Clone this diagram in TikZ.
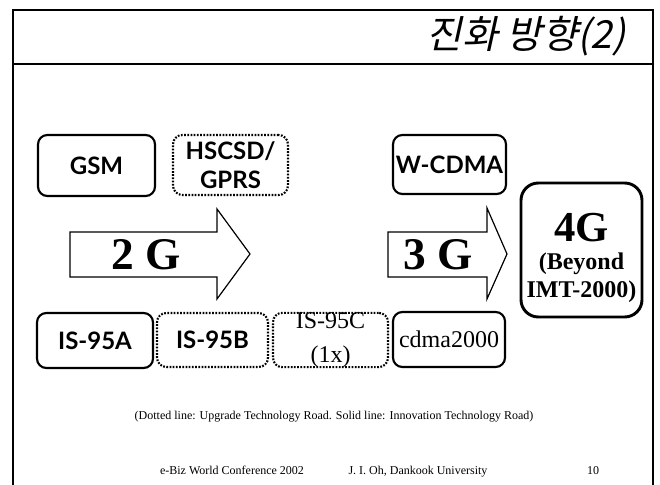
\documentclass[tikz,border=0pt]{standalone}
\usepackage{fontspec}
\setmainfont{Liberation Serif}
\newfontfamily\boxfont{Lato}
\newfontfamily\krfont[FakeSlant=0.22]{Noto Sans CJK KR}
\usepackage{tikz}
\tikzset{
  solidbox/.style={draw, line width=1.6pt, rounded corners=7pt,
    inner sep=0pt, align=center},
  dotbox/.style={solidbox, dash pattern=on 1.3pt off 1.1pt},
  bigbox/.style={solidbox, line width=2.2pt, rounded corners=13pt},
  genarrow/.style={draw, line width=0.9pt, fill=white},
  sanslbl/.style={font=\boxfont\bfseries\fontsize{18}{22}\selectfont},
  seriflbl/.style={font=\fontsize{18}{25}\selectfont},
  genlbl/.style={font=\bfseries\fontsize{34}{36}\selectfont},
  notelbl/.style={font=\fontsize{9}{10}\selectfont, anchor=base},
  frame/.style={line width=1.9pt}
}

\begin{document}
\begin{tikzpicture}[x=0.75pt, y=-0.75pt]
  \useasboundingbox (0,0) rectangle (660,485);
  % slide frame and title bar
  \draw[frame] (13,485) -- (13,10) -- (653,10) -- (653,485);
  \draw[frame] (13,64) -- (653,64);
  \node[anchor=east, font=\krfont\fontsize{29}{30}\selectfont] (title) at (630,36) {진화 방향(2)};
  % upper row
  \node[solidbox, sanslbl, minimum width=87.75pt, minimum height=45.75pt] (gsm) at (96.5,165.5) {GSM};
  \node[dotbox, sanslbl, minimum width=86.25pt, minimum height=45pt] (hscsd) at (230.5,165) {HSCSD/\\GPRS};
  \node[solidbox, sanslbl, minimum width=84.75pt, minimum height=44.25pt] (wcdma) at (449.5,164.5) {W-CDMA};
  % generation arrows
  \draw[genarrow] (70,232) -- (217,232) -- (217,209) -- (250,254)
    -- (217,299) -- (217,277) -- (70,277) -- cycle;
  \node[genlbl] (twog) at (146,255) {2 G};
  \draw[genarrow] (388,232) -- (487,232) -- (487,208) -- (507,254)
    -- (487,299) -- (487,277) -- (388,277) -- cycle;
  \node[genlbl] (threeg) at (438,255) {3 G};
  % 4G
  \node[bigbox, minimum width=90.75pt, minimum height=100.5pt] (fourg) at (581.5,250) {};
  \node[align=center, font=\bfseries\fontsize{18}{21}\selectfont] (fourglbl) at (581.5,258)
    {{\fontsize{32}{34}\selectfont 4G}\\(Beyond\\IMT-2000)};
  % lower row
  \node[solidbox, sanslbl, minimum width=87pt, minimum height=41.25pt] (is95a) at (95,340.5) {IS-95A};
  \node[dotbox, sanslbl, minimum width=83.25pt, minimum height=40.5pt] (is95b) at (212.5,340) {IS-95B};
  \node[dotbox, seriflbl, minimum width=86.25pt, minimum height=40.5pt] (is95c) at (330.5,340) {IS-95C\\(1x)};
  \node[solidbox, seriflbl, minimum width=84pt, minimum height=41.25pt] (cdma) at (449,339.5) {cdma2000};
  % notes
  \node[notelbl] (note) at (334,419)
    {(Dotted line: Upgrade Technology Road. Solid line: Innovation Technology Road)};
  \node[notelbl] (conf) at (232,474) {e-Biz World Conference 2002};
  \node[notelbl] (author) at (418,474) {J. I. Oh, Dankook University};
  \node[notelbl] (page) at (593,474) {10};
\end{tikzpicture}
\end{document}
